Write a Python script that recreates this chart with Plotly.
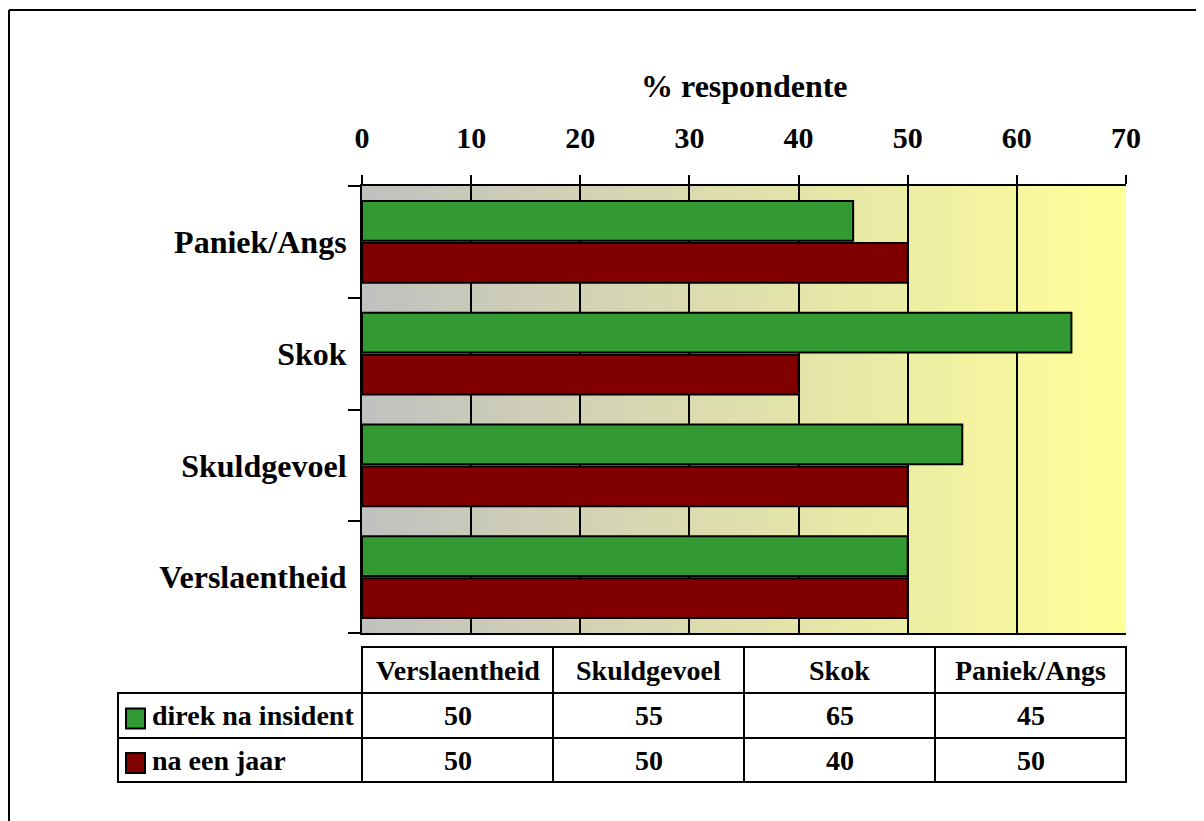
#!/usr/bin/env python3
"""
Horizontal bar chart with data table: % respondente per reaksie
"""

import plotly.graph_objects as go

# Data
categories = ["Verslaentheid", "Skuldgevoel", "Skok", "Paniek/Angs"]
series_names = ["direk na insident", "na een jaar"]
direk_values = [50, 55, 65, 45]
jaar_values = [50, 50, 40, 50]
x_ticks = [0, 10, 20, 30, 40, 50, 60, 70]
axis_title = "% respondente"

GREEN = "#339933"
RED = "#800000"
FONT = "Liberation Serif, Times New Roman, serif"

# Page / plot area in pixels (page coordinates, the page body adds 8px)
OFF = 8
W, H = 1204 - OFF, 821 - OFF
L, R, T, B = 362, 1126, 186, 633


def px(x):
    return (x - L) / (R - L)


def py(y):
    return (B - y) / (B - T)


fig = go.Figure()

# red first so that green sits on top inside each group
fig.add_trace(go.Bar(
    y=categories, x=jaar_values, orientation="h", name=series_names[1],
    marker=dict(color=RED, line=dict(color="black", width=2)),
    hoverinfo="x+y"
))
fig.add_trace(go.Bar(
    y=categories, x=direk_values, orientation="h", name=series_names[0],
    marker=dict(color=GREEN, line=dict(color="black", width=2)),
    hoverinfo="x+y"
))

shapes = []

# gradient background (gray -> light yellow) made from thin strips
n_strips = 140
c0 = (192, 192, 192)
c1 = (255, 255, 153)
x_max = x_ticks[-1]
for i in range(n_strips):
    t = (i + 0.5) / n_strips
    col = tuple(round(a + (b - a) * t) for a, b in zip(c0, c1))
    shapes.append(dict(
        type="rect", xref="x", yref="paper", layer="below",
        x0=x_max * i / n_strips, x1=x_max * (i + 1) / n_strips + 0.05,
        y0=0, y1=1, line=dict(width=0),
        fillcolor="rgb(%d,%d,%d)" % col
    ))

# outer chart border (top and left visible)
shapes.append(dict(type="line", xref="paper", yref="paper",
                   x0=px(9), x1=px(1230), y0=py(10), y1=py(10),
                   line=dict(color="black", width=2)))
shapes.append(dict(type="line", xref="paper", yref="paper",
                   x0=px(9), x1=px(9), y0=py(10), y1=py(850),
                   line=dict(color="black", width=2)))

# data table
line_style = dict(color="black", width=2)
col_edges = [L + i * (R - L) / len(categories) for i in range(len(categories) + 1)]
row_edges = [647, 693, 738, 782]
label_left = 118

# header row box
shapes.append(dict(type="rect", xref="paper", yref="paper",
                   x0=px(L), x1=px(R), y0=py(row_edges[0]), y1=py(row_edges[1]),
                   line=line_style))
# data rows box
shapes.append(dict(type="rect", xref="paper", yref="paper",
                   x0=px(label_left), x1=px(R), y0=py(row_edges[1]), y1=py(row_edges[3]),
                   line=line_style))
shapes.append(dict(type="line", xref="paper", yref="paper",
                   x0=px(label_left), x1=px(R), y0=py(row_edges[2]), y1=py(row_edges[2]),
                   line=line_style))
for xe in col_edges[:-1]:
    shapes.append(dict(type="line", xref="paper", yref="paper",
                       x0=px(xe), x1=px(xe), y0=py(row_edges[0]), y1=py(row_edges[3]),
                       line=line_style))

annotations = []
tfont = dict(family=FONT, size=28, color="black", weight="bold")

for i, cat in enumerate(categories):
    xc = (col_edges[i] + col_edges[i + 1]) / 2
    annotations.append(dict(
        x=px(xc), y=py((row_edges[0] + row_edges[1]) / 2), xref="paper", yref="paper",
        text=cat, showarrow=False, font=tfont, xanchor="center", yanchor="middle"))
    for r, vals in enumerate([direk_values, jaar_values]):
        annotations.append(dict(
            x=px(xc), y=py((row_edges[r + 1] + row_edges[r + 2]) / 2),
            xref="paper", yref="paper", text=str(vals[i]), showarrow=False,
            font=tfont, xanchor="center", yanchor="middle"))

# legend keys and series names in the table
for r, (name, color) in enumerate(zip(series_names, [GREEN, RED])):
    yc = (row_edges[r + 1] + row_edges[r + 2]) / 2 + 3
    shapes.append(dict(type="rect", xref="paper", yref="paper",
                       x0=px(126), x1=px(145), y0=py(yc - 10), y1=py(yc + 10),
                       fillcolor=color, line=dict(color="black", width=2)))
    annotations.append(dict(
        x=px(150), y=py(yc - 3), xref="paper", yref="paper", text=name,
        showarrow=False, font=tfont, xanchor="left", yanchor="middle"))

# axis title on top
annotations.append(dict(
    x=0.5, y=py(86), xref="paper", yref="paper", text=axis_title, showarrow=False,
    font=dict(family=FONT, size=32, color="black", weight="bold"),
    xanchor="center", yanchor="middle"))

fig.update_layout(
    width=W, height=H,
    margin=dict(l=L - OFF, r=W - (R - OFF), t=T - OFF, b=H - (B - OFF), pad=0),
    paper_bgcolor="white",
    plot_bgcolor="rgba(0,0,0,0)",
    barmode="group",
    bargap=0.25,
    bargroupgap=0.05,
    showlegend=False,
    shapes=shapes,
    annotations=annotations,
    font=dict(family=FONT, color="black"),
    xaxis=dict(
        side="top", range=[0, x_max], tickvals=x_ticks,
        showgrid=True, gridcolor="black", gridwidth=2, zeroline=False,
        showline=True, linecolor="black", linewidth=2, mirror=True,
        ticks="outside", ticklen=9, tickwidth=2, tickcolor="black",
        ticklabelstandoff=15,
        tickfont=dict(family=FONT, size=30, color="black", weight="bold"),
        fixedrange=True
    ),
    yaxis=dict(
        categoryorder="array", categoryarray=categories,
        showgrid=False, zeroline=False,
        showline=True, linecolor="black", linewidth=2,
        ticks="outside", ticklen=12, tickwidth=2, tickcolor="black",
        tickson="boundaries", ticklabelstandoff=7,
        tickfont=dict(family=FONT, size=32, color="black", weight="bold"),
        fixedrange=True
    ),
)

fig.write_html("out.html")
